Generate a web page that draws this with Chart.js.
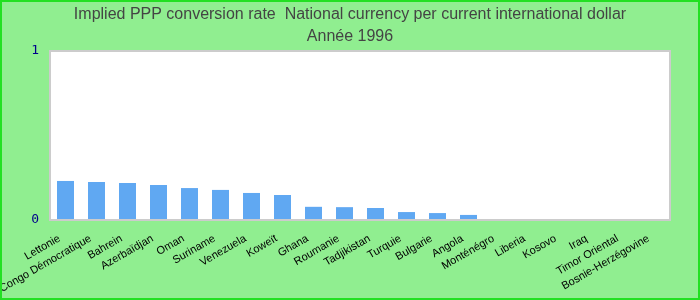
<!DOCTYPE html>
<html lang="fr">
<head>
    <meta charset="UTF-8">
    <title>Implied PPP conversion rate - Année 1996</title>
    <script src="https://cdn.jsdelivr.net/npm/chart.js"></script>
    <style>
        html, body { margin: 0; padding: 0; background: #90ee90; }
        #wrap { width: 700px; height: 300px; position: relative; }
    </style>
</head>
<body>
    <div id="wrap"><canvas id="pppChart" width="700" height="300"></canvas></div>

    <script>
        const countries = ['Lettonie', 'Congo Démocratique', 'Bahrein', 'Azerbaïdjan', 'Oman', 'Suriname',
            'Venezuela', 'Koweït', 'Ghana', 'Roumanie', 'Tadjikistan', 'Turquie', 'Bulgarie', 'Angola',
            'Monténégro', 'Liberia', 'Kosovo', 'Iraq', 'Timor Oriental', 'Bosnie-Herzégovine'];
        const rates = [0.231, 0.225, 0.219, 0.207, 0.189, 0.178, 0.160, 0.148, 0.078, 0.076,
            0.071, 0.047, 0.041, 0.030, null, null, null, null, null, null];
        const yTicks = [0, 1];
        const titleLines = ['Implied PPP conversion rate  National currency per current international dollar', 'Année 1996'];

        // fond blanc de la zone de tracé, cadre gris, titre et bordure verte
        const decor = {
            id: 'decor',
            beforeDatasetsDraw(chart) {
                const { ctx, chartArea: a } = chart;
                ctx.save();
                ctx.fillStyle = '#ffffff';
                ctx.fillRect(a.left, a.top, a.right - a.left, a.bottom - a.top);
                ctx.restore();
            },
            afterDraw(chart) {
                const { ctx, chartArea: a, width, height } = chart;
                ctx.save();
                ctx.strokeStyle = '#cccccc';
                ctx.lineWidth = 2;
                ctx.strokeRect(a.left, a.top, a.right - a.left, a.bottom - a.top);
                ctx.fillStyle = '#444444';
                ctx.font = '16px "Liberation Sans", Arial, sans-serif';
                ctx.textAlign = 'center';
                ctx.textBaseline = 'middle';
                ctx.fillText(titleLines[0], width / 2, 15);
                ctx.fillText(titleLines[1], width / 2, 37);
                ctx.strokeStyle = '#22e022';
                ctx.lineWidth = 2;
                ctx.strokeRect(1, 1, width - 2, height - 2);
                ctx.restore();
            }
        };

        new Chart(document.getElementById('pppChart'), {
            type: 'bar',
            data: {
                labels: countries,
                datasets: [{
                    data: rates,
                    backgroundColor: '#60a8f2',
                    categoryPercentage: 1,
                    barPercentage: 0.55
                }]
            },
            options: {
                responsive: false,
                animation: false,
                layout: { padding: { top: 51, right: 30, left: 0, bottom: 0 } },
                plugins: {
                    legend: { display: false },
                    title: { display: false },
                    tooltip: { enabled: false }
                },
                scales: {
                    x: {
                        grid: { display: false },
                        border: { display: false },
                        ticks: {
                            color: '#000000',
                            font: { family: '"Liberation Sans", Arial, sans-serif', size: 11 },
                            minRotation: 30,
                            maxRotation: 30,
                            autoSkip: false,
                            padding: 4,
                            labelOffset: -6
                        },
                        afterFit(scale) { scale.height = 80; }
                    },
                    y: {
                        min: 0,
                        max: 1,
                        grid: { display: false },
                        border: { display: false },
                        afterBuildTicks(scale) { scale.ticks = yTicks.map(v => ({ value: v })); },
                        ticks: {
                            color: '#00008b',
                            font: { family: '"DejaVu Sans Mono", monospace', size: 13 },
                            padding: 3
                        },
                        afterFit(scale) { scale.width = 50; }
                    }
                }
            },
            plugins: [decor]
        });
    </script>
</body>
</html>
